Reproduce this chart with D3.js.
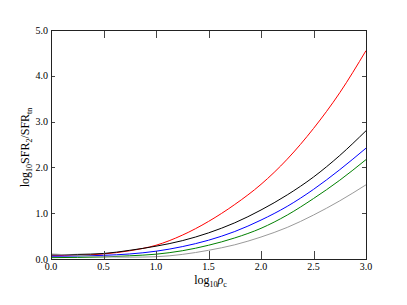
<!DOCTYPE html>
<html>
<head>
<meta charset="utf-8">
<script src="https://cdn.jsdelivr.net/npm/d3@7"></script>
<style>
  body { margin: 0; background: #fff; }
  svg text { font-family: "Liberation Serif", serif; fill: #000; }
</style>
</head>
<body>
<svg id="chart" width="407" height="305"></svg>
<script>
// log10 rho_c sample points
var logRho = [0, 0.25, 0.5, 0.75, 1.0, 1.25, 1.5, 1.75, 2.0, 2.25, 2.5, 2.75, 3.0];

// log10 SFR2/SFRtn, one list per curve
var redVals   = [0.07, 0.08, 0.11, 0.18, 0.30, 0.52, 0.82, 1.19, 1.63, 2.18, 2.85, 3.63, 4.55];
var blackVals = [0.09, 0.10, 0.12, 0.19, 0.28, 0.40, 0.57, 0.79, 1.07, 1.40, 1.79, 2.26, 2.80];
var blueVals  = [0.06, 0.065, 0.08, 0.11, 0.17, 0.27, 0.41, 0.60, 0.85, 1.15, 1.52, 1.95, 2.42];
var greenVals = [0.03, 0.035, 0.045, 0.07, 0.105, 0.18, 0.30, 0.46, 0.67, 0.96, 1.32, 1.72, 2.17];
var grayVals  = [0.11, 0.08, 0.05, 0.04, 0.05, 0.10, 0.19, 0.31, 0.48, 0.69, 0.96, 1.27, 1.62];

var xTicks = [0, 0.5, 1.0, 1.5, 2.0, 2.5, 3.0];
var yTicks = [0, 1, 2, 3, 4, 5];

var series = [
    {vals: redVals, color: "#ff0000"},
    {vals: blackVals, color: "#000000"},
    {vals: blueVals, color: "#0000ff"},
    {vals: greenVals, color: "#008000"},
    {vals: grayVals, color: "#9a9a9a"}
];

var svg = d3.select("#chart");
// plot box (pixels)
var pLeft = 51, pRight = 366, pTop = 30, pBottom = 259;

var x = d3.scaleLinear().domain([0, 3]).range([pLeft, pRight]);
var y = d3.scaleLinear().domain([0, 5]).range([pBottom, pTop]);

// curves
var line = d3.line()
    .x(function (d) { return x(d[0]); })
    .y(function (d) { return y(d[1]); })
    .curve(d3.curveMonotoneX);

var plot = svg.append("g");
series.forEach(function (s) {
    plot.append("path")
        .attr("d", line(logRho.map(function (v, i) { return [v, s.vals[i]]; })))
        .attr("fill", "none")
        .attr("stroke", s.color)
        .attr("stroke-width", 1);
});

// inward ticks on all four sides
var ticks = svg.append("g").attr("stroke", "#444").attr("stroke-width", 1);
xTicks.forEach(function (t) {
    var px = Math.round(x(t)) + 0.5;
    ticks.append("line").attr("x1", px).attr("x2", px).attr("y1", pBottom).attr("y2", pBottom - 8);
    ticks.append("line").attr("x1", px).attr("x2", px).attr("y1", pTop).attr("y2", pTop + 8);
});
yTicks.forEach(function (t) {
    var py = Math.round(y(t)) + 0.5;
    ticks.append("line").attr("x1", pLeft).attr("x2", pLeft + 4).attr("y1", py).attr("y2", py);
    ticks.append("line").attr("x1", pRight).attr("x2", pRight - 4).attr("y1", py).attr("y2", py);
});

// frame
svg.append("rect")
    .attr("x", pLeft + 0.5).attr("y", pTop + 0.5)
    .attr("width", pRight - pLeft).attr("height", pBottom - pTop)
    .attr("fill", "none")
    .attr("stroke", "#222")
    .attr("stroke-width", 1);

// tick labels
svg.append("g").selectAll("text").data(xTicks).join("text")
    .attr("x", function (d) { return x(d); })
    .attr("y", pBottom + 11)
    .attr("text-anchor", "middle")
    .attr("font-size", 10)
    .text(function (d) { return d.toFixed(1); });

svg.append("g").selectAll("text").data(yTicks).join("text")
    .attr("x", pLeft - 3)
    .attr("y", function (d) { return y(d) + 3.5; })
    .attr("text-anchor", "end")
    .attr("font-size", 10)
    .text(function (d) { return d.toFixed(1); });

// axis labels
var xl = svg.append("text")
    .attr("x", (pLeft + pRight) / 2 + 2)
    .attr("y", 284)
    .attr("text-anchor", "middle")
    .attr("font-size", 12);
xl.append("tspan").text("log");
xl.append("tspan").attr("font-size", 8).attr("dy", 3).text("10");
xl.append("tspan").attr("dy", -3).attr("font-style", "italic").text("ρ");
xl.append("tspan").attr("font-size", 8).attr("dy", 3).text("c");

var yl = svg.append("text")
    .attr("transform", "translate(29," + ((pTop + pBottom) / 2 + 3) + ") rotate(-90)")
    .attr("text-anchor", "middle")
    .attr("font-size", 12);
yl.append("tspan").text("log");
yl.append("tspan").attr("font-size", 8).attr("dy", 3).text("10");
yl.append("tspan").attr("dy", -3).text("SFR");
yl.append("tspan").attr("font-size", 8).attr("dy", 3).text("2");
yl.append("tspan").attr("dy", -3).text("/SFR");
yl.append("tspan").attr("font-size", 8).attr("dy", 3).text("tn");
</script>
</body>
</html>
